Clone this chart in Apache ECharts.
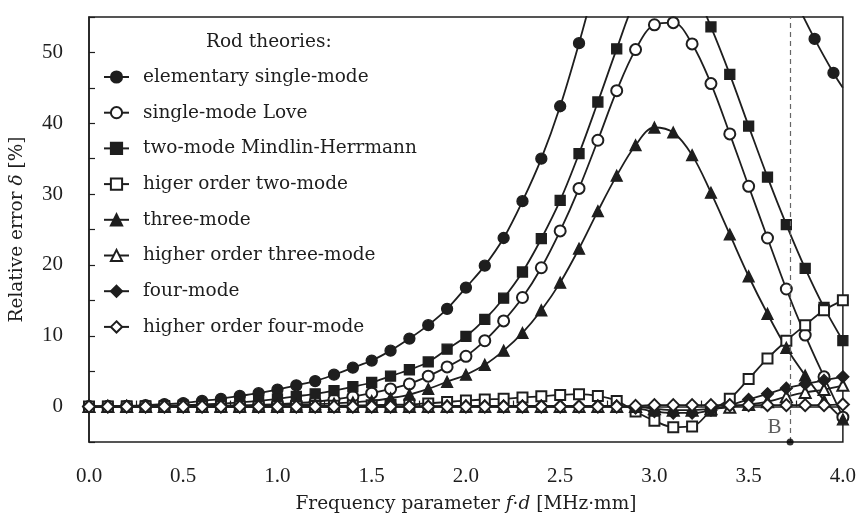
<!DOCTYPE html>
<html>
<head>
<meta charset="utf-8">
<script src="https://cdn.jsdelivr.net/npm/echarts@6/dist/echarts.min.js"></script>
<style>
  html, body { margin: 0; padding: 0; background: #fff; }
  #chart { width: 859px; height: 519px; }
</style>
</head>
<body>
<div id="chart"></div>
<script>
// frequency parameter f*d, step 0.1
var xs = [0.0,0.1,0.2,0.3,0.4,0.5,0.6,0.7,0.8,0.9,1.0,1.1,1.2,1.3,1.4,1.5,1.6,1.7,1.8,1.9,
          2.0,2.1,2.2,2.3,2.4,2.5,2.6,2.7,2.8,2.9,3.0,3.1,3.2,3.3,3.4,3.5,3.6,3.7,3.8,3.9,4.0];

// elementary single-mode has its own grid at the right end
var elemX = [0.0,0.1,0.2,0.3,0.4,0.5,0.6,0.7,0.8,0.9,1.0,1.1,1.2,1.3,1.4,1.5,1.6,1.7,1.8,1.9,
             2.0,2.1,2.2,2.3,2.4,2.5,2.6,2.7,2.8,2.9,3.0,3.1,3.2,3.3,3.4,3.5,3.6,3.7,3.85,3.95,4.0];
var elemY = [0,0.05,0.1,0.2,0.35,0.5,0.8,1.1,1.5,1.9,2.4,3.0,3.6,4.5,5.5,6.5,7.9,9.6,11.5,13.8,
             16.8,19.9,23.8,29.0,35.0,42.4,51.3,61,70,77,82,85,86,84,79,73,66,60,51.9,47.1,45.0];

var loveY = [0,0,0.02,0.04,0.06,0.08,0.1,0.12,0.15,0.25,0.35,0.5,0.7,1.0,1.4,1.9,2.5,3.2,4.3,5.6,
             7.1,9.3,12.1,15.4,19.6,24.8,30.8,37.6,44.6,50.4,53.9,54.2,51.2,45.6,38.5,31.1,23.8,16.6,10.1,4.2,-1.5];
var mindlinY = [0,0.02,0.05,0.08,0.12,0.2,0.3,0.4,0.6,0.8,1.1,1.45,1.8,2.25,2.8,3.4,4.3,5.2,6.3,8.1,
                9.9,12.3,15.3,19.0,23.7,29.1,35.7,43.0,50.5,57.5,61.5,62.5,59.5,53.6,46.9,39.6,32.4,25.7,19.5,14.0,9.3];
var hoTwoY = [0,0,0,0,0,0,0,0,0,0,0.05,0.08,0.1,0.12,0.15,0.2,0.25,0.3,0.45,0.65,
              0.85,1.0,1.1,1.3,1.45,1.65,1.75,1.5,0.8,-0.7,-2.0,-2.9,-2.8,-0.6,1.1,3.9,6.8,9.3,11.5,13.6,15.0];
var threeY = [0,0,0.01,0.02,0.03,0.05,0.07,0.1,0.15,0.2,0.25,0.3,0.35,0.45,0.6,0.8,1.2,1.7,2.5,3.5,
              4.5,5.9,7.9,10.4,13.6,17.5,22.3,27.6,32.6,36.9,39.4,38.7,35.5,30.2,24.3,18.4,13.1,8.3,4.4,0.9,-1.8];
var hoThreeY = [0,0,0,0,0,0,0,0,0,0,0,0,0,0,0,0,0,0,0,0,
                0,0,0,0,0,0,0,0,0,0,-0.3,-0.5,-0.5,-0.3,-0.1,0.3,0.7,1.4,2.0,2.4,3.0];
var fourY = [0,0,0,0,0,0,0,0,0,0,0,0,0,0,0,0.02,0.03,0.05,0.06,0.08,
             0.1,0.1,0.1,0.1,0.1,0.1,0.1,0.1,0.1,-0.2,-0.7,-0.9,-0.9,-0.5,0.2,1.0,1.8,2.6,3.2,3.7,4.2];
var hoFourY = [0,0,0,0,0,0,0,0,0,0,0,0,0,0,0,0,0,0,0,0,
               0,0,0,0,0,0,0,0,0,0.1,0.2,0.2,0.2,0.2,0.2,0.2,0.2,0.2,0.2,0.2,0.3];

var names = ['elementary single-mode', 'single-mode Love', 'two-mode Mindlin-Herrmann', 'higer order two-mode',
             'three-mode', 'higher order three-mode', 'four-mode', 'higher order four-mode'];
var symbols = ['circle', 'emptyCircle', 'rect', 'emptyRect', 'triangle', 'emptyTriangle', 'diamond', 'emptyDiamond'];
var symbolSizes = [11, 11, 10, 10, 11, 11, 12, 12];

// point B on the frequency axis
var pointB = [3.72, -5];

var FONT = 'DejaVu Serif';       // words
var NUMFONT = 'Liberation Serif'; // tick numbers
var INK = '#1e1e1e';

function pairs(x, y) {
    var out = [];
    for (var i = 0; i < y.length; i++) out.push([x[i], y[i]]);
    return out;
}

var elemData = pairs(elemX, elemY);
// the curve runs on to the right border without a marker
elemData[elemData.length - 1] = { value: elemData[elemData.length - 1], symbol: 'none' };

var seriesData = [elemData, pairs(xs, loveY), pairs(xs, mindlinY), pairs(xs, hoTwoY),
                  pairs(xs, threeY), pairs(xs, hoThreeY), pairs(xs, fourY), pairs(xs, hoFourY)];

var series = [];
for (var i = 0; i < names.length; i++) {
    series.push({
        name: names[i],
        type: 'line',
        data: seriesData[i],
        smooth: 0.35,
        symbol: symbols[i],
        symbolSize: symbolSizes[i],
        showAllSymbol: true,
        clip: true,
        lineStyle: { color: INK, width: 1.8 },
        itemStyle: { color: INK, borderColor: INK, borderWidth: 1.3 },
        z: 3
    });
}

// dashed line through B
series[0].markLine = {
    silent: true,
    symbol: ['none', 'none'],
    label: { show: false },
    lineStyle: { type: [5, 4], color: '#666', width: 1.2 },
    data: [{ xAxis: pointB[0] }]
};

series.push({
    name: 'B',
    type: 'scatter',
    data: [pointB],
    symbol: 'circle',
    symbolSize: 7,
    clip: false,
    itemStyle: { color: '#000' },
    label: {
        show: true,
        formatter: 'B',
        position: 'left',
        offset: [0, -15],
        fontFamily: NUMFONT,
        fontSize: 21,
        color: '#333'
    },
    z: 6
});

var chart = echarts.init(document.getElementById('chart'));
chart.setOption({
    animation: false,
    backgroundColor: '#fff',
    title: {
        text: 'Rod theories:',
        left: 201,
        top: 28,
        textStyle: { fontFamily: FONT, fontSize: 18.5, fontWeight: 'normal', color: INK }
    },
    legend: {
        data: names,
        orient: 'vertical',
        left: 98,
        top: 62,
        itemWidth: 25,
        itemHeight: 14,
        itemGap: 15.7,
        textStyle: { fontFamily: FONT, fontSize: 18.5, color: INK, lineHeight: 20, padding: [0, 0, 0, 9] }
    },
    grid: {
        left: 89, right: 12, top: 17, bottom: 75,
        show: true,
        borderColor: INK,
        borderWidth: 1.5,
        backgroundColor: 'transparent'
    },
    xAxis: {
        type: 'value',
        min: 0, max: 4, interval: 0.25,
        name: '{n|Frequency parameter }{i|f}{n|·}{i|d}{n| [MHz·mm]}',
        nameLocation: 'middle',
        nameGap: 53,
        nameTextStyle: {
            rich: {
                n: { fontFamily: FONT, fontSize: 18.5, color: INK },
                i: { fontFamily: FONT, fontSize: 18.5, color: INK, fontStyle: 'italic' }
            }
        },
        axisLine: { lineStyle: { color: INK, width: 1.5 } },
        axisTick: { inside: true, length: 6, lineStyle: { color: INK, width: 1.2 } },
        axisLabel: {
            margin: 24,
            fontFamily: NUMFONT, fontSize: 21, color: INK,
            formatter: function (v) {
                return Math.abs(v * 2 - Math.round(v * 2)) < 1e-6 ? v.toFixed(1) : '';
            }
        },
        splitLine: { show: false }
    },
    yAxis: {
        type: 'value',
        min: -5, max: 55, interval: 5,
        name: '{n|Relative error }{i|δ}{n| [%]}',
        nameLocation: 'middle',
        nameGap: 62,
        nameRotate: 90,
        nameTextStyle: {
            rich: {
                n: { fontFamily: FONT, fontSize: 18.5, color: INK },
                i: { fontFamily: FONT, fontSize: 18.5, color: INK, fontStyle: 'italic' }
            }
        },
        axisLine: { lineStyle: { color: INK, width: 1.5 } },
        axisTick: { inside: true, length: 6, lineStyle: { color: INK, width: 1.2 } },
        axisLabel: {
            margin: 26,
            fontFamily: NUMFONT, fontSize: 21, color: INK,
            formatter: function (v) { return v % 10 === 0 ? String(v) : ''; }
        },
        splitLine: { show: false }
    },
    series: series
});
</script>
</body>
</html>
